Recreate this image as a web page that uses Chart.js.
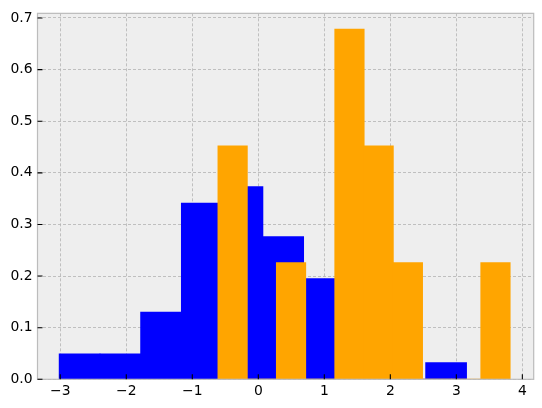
<!DOCTYPE html>
<html>
<head>
<meta charset="utf-8">
<script src="https://cdn.jsdelivr.net/npm/chart.js@4/dist/chart.umd.min.js"></script>
<style>
  html, body { margin: 0; padding: 0; background: #fff; }
  #wrap { width: 542px; height: 408px; position: relative; }
</style>
</head>
<body>
<div id="wrap"><canvas id="histChart"></canvas></div>
<script>
// --- Blue histogram (10 bins, density) ---
const blueCenters = [-2.707, -2.090, -1.473, -0.856, -0.240, 0.377, 0.994, 1.611, 2.228, 2.845];
const blueDensity = [0.049, 0.049, 0.130, 0.341, 0.373, 0.276, 0.195, 0.178, 0, 0.032];

// --- Orange histogram (10 bins, density) ---
const orangeCenters = [-0.389, 0.053, 0.496, 0.938, 1.381, 1.823, 2.266, 2.708, 3.151, 3.593];
const orangeDensity = [0.452, 0, 0.226, 0, 0.678, 0.452, 0.226, 0, 0, 0.226];

const xTicks = [-3, -2, -1, 0, 1, 2, 3, 4];
const yTicks = [0, 0.1, 0.2, 0.3, 0.4, 0.5, 0.6, 0.7];

const X_MIN = -3.345, X_MAX = 4.172;
const Y_MIN = 0, Y_MAX = 0.709;

const toPoints = (xs, ys) => xs.map((x, i) => ({ x: x, y: ys[i] }));
const minus = v => String(v).replace('-', '\u2212');

const tickFont = { family: 'DejaVu Sans', size: 13.9 };

// axes background + frame + inward ticks (bmh look)
const bmhAxes = {
  id: 'bmhAxes',
  beforeDraw(chart) {
    const { ctx, chartArea: a } = chart;
    ctx.save();
    ctx.fillStyle = '#eeeeee';
    ctx.fillRect(a.left, a.top, a.right - a.left, a.bottom - a.top);
    ctx.restore();
  },
  afterDraw(chart) {
    const { ctx, chartArea: a, scales } = chart;
    ctx.save();
    ctx.strokeStyle = '#bcbcbc';
    ctx.lineWidth = 1.2;
    ctx.strokeRect(a.left, a.top, a.right - a.left, a.bottom - a.top);
    ctx.strokeStyle = '#000';
    ctx.lineWidth = 1.1;
    ctx.beginPath();
    scales.x.ticks.forEach(t => {
      const px = scales.x.getPixelForValue(t.value);
      ctx.moveTo(px, a.bottom);
      ctx.lineTo(px, a.bottom - 5);
    });
    scales.y.ticks.forEach(t => {
      const py = scales.y.getPixelForValue(t.value);
      ctx.moveTo(a.left, py);
      ctx.lineTo(a.left + 5, py);
    });
    ctx.stroke();
    ctx.restore();
  }
};

new Chart(document.getElementById('histChart'), {
  type: 'bar',
  data: {
    datasets: [
      {
        label: 'orange',
        data: toPoints(orangeCenters, orangeDensity),
        backgroundColor: '#ffa500',
        xAxisID: 'x2',
        order: 0
      },
      {
        label: 'blue',
        data: toPoints(blueCenters, blueDensity),
        backgroundColor: '#0000ff',
        xAxisID: 'x',
        order: 1
      }
    ]
  },
  options: {
    responsive: true,
    maintainAspectRatio: false,
    animation: false,
    events: [],
    layout: { padding: { top: 10.5, right: 8.3, left: 0, bottom: 0 } },
    datasets: {
      bar: {
        barPercentage: 1.0,
        categoryPercentage: 1.0,
        grouped: false,
        borderWidth: 0,
        inflateAmount: 0.5
      }
    },
    plugins: {
      legend: { display: false },
      tooltip: { enabled: false }
    },
    scales: {
      x: {
        type: 'linear',
        offset: false,
        min: X_MIN,
        max: X_MAX,
        afterBuildTicks: s => { s.ticks = xTicks.map(v => ({ value: v })); },
        afterFit: s => { s.height = 28.7; },
        ticks: {
          font: tickFont,
          color: '#000',
          padding: 4,
          maxRotation: 0,
          autoSkip: false,
          callback: v => minus(v)
        },
        grid: { offset: false, color: '#b2b2b2', lineWidth: 0.8, drawTicks: false },
        border: { display: false, dash: [3, 2] }
      },
      x2: {
        type: 'linear',
        display: false,
        offset: false,
        min: X_MIN,
        max: X_MAX,
        grid: { offset: false },
        afterBuildTicks: s => { s.ticks = xTicks.map(v => ({ value: v })); }
      },
      y: {
        type: 'linear',
        min: Y_MIN,
        max: Y_MAX,
        afterBuildTicks: s => { s.ticks = yTicks.map(v => ({ value: v })); },
        afterFit: s => { s.width = 37.5; },
        ticks: {
          font: tickFont,
          color: '#000',
          padding: 5,
          callback: v => v.toFixed(1)
        },
        grid: { color: '#b2b2b2', lineWidth: 0.8, drawTicks: false },
        border: { display: false, dash: [3, 2] }
      }
    }
  },
  plugins: [bmhAxes]
});
</script>
</body>
</html>
